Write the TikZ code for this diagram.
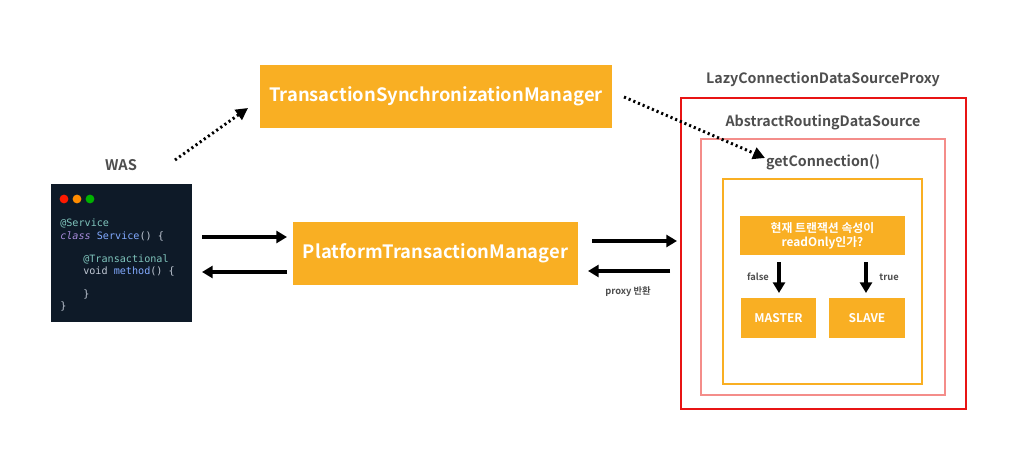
\documentclass[tikz,border=0pt]{standalone}
\usepackage{fontspec}
\setmainfont{Noto Sans CJK KR}[BoldFont={Noto Sans CJK KR Bold}]
\newfontfamily\codefont{DejaVu Sans Mono}
\usetikzlibrary{arrows.meta}
\definecolor{orng}{HTML}{F9AF23}
\definecolor{lbl}{HTML}{4E4E4E}
\definecolor{codebg}{HTML}{0E1A28}
\definecolor{redb}{HTML}{E81414}
\definecolor{pinkb}{HTML}{F48D8A}
\definecolor{annot}{HTML}{7FC4BC}
\definecolor{kw}{HTML}{A78BDB}
\definecolor{fn}{HTML}{82AAFF}
\definecolor{plain}{HTML}{C0C8D4}
\tikzset{
  obox/.style={fill=orng, draw=none, text=white, font=\bfseries},
  lab/.style={text=lbl, font=\bfseries},
  code/.style={anchor=west, font=\codefont\fontsize{7.6}{8}\selectfont, text=plain, inner sep=0},
  solidarrow/.style={line width=2.3pt, -{Triangle[length=8pt,width=9pt]}},
  dotarrow/.style={line width=2.2pt, dash pattern=on 1.6pt off 2.2pt, -{Triangle[length=9pt,width=9pt]}},
}
\begin{document}
\begin{tikzpicture}[x=0.75pt,y=-0.75pt]
\useasboundingbox[fill=white] (0,0) rectangle (1020,470);
% managers
\node[obox, minimum width=352*0.75pt, minimum height=63*0.75pt, font=\bfseries\fontsize{13.8}{15}\selectfont] (tsm) at (436,96.5) {TransactionSynchronizationManager};
\node[obox, minimum width=285*0.75pt, minimum height=63*0.75pt, font=\bfseries\fontsize{13.8}{15}\selectfont] (ptm) at (435.5,253.5) {PlatformTransactionManager};
% WAS
\node[lab, font=\bfseries\fontsize{11}{13}\selectfont] (was) at (121,165) {WAS};
\node[fill=codebg, minimum width=141*0.75pt, minimum height=138*0.75pt, inner sep=0] (codep) at (121.5,253) {};
\fill[red!80!orange] (64,199) circle[radius=3.3pt];
\fill[orange!90!yellow] (77,199) circle[radius=3.3pt];
\fill[green!70!black] (90,199) circle[radius=3.3pt];
\node[code] (c1) at (60,223) {\textcolor{annot}{@Service}};
\node[code] (c2) at (60,236) {\textcolor{kw}{\itshape class} \textcolor{fn}{Service}() \{};
\node[code] (c3) at (83,259) {\textcolor{annot}{@Transactional}};
\node[code] (c4) at (83,271) {void \textcolor{fn}{method}() \{};
\node[code] (c5) at (83,294) {\}};
\node[code] (c6) at (60,306) {\}};
% right structure
\node[lab, font=\bfseries\fontsize{10.7}{13}\selectfont] (lazyl) at (823,79) {LazyConnectionDataSourceProxy};
\draw[redb, line width=1.6pt] (681,98) rectangle (966,409);
\node[lab, font=\bfseries\fontsize{10.7}{13}\selectfont] (absl) at (823,122) {AbstractRoutingDataSource};
\draw[pinkb, line width=1.6pt] (701,139) rectangle (945,395);
\node[lab, font=\bfseries\fontsize{10.7}{13}\selectfont] (getc) at (823,162) {getConnection()};
\draw[orng, line width=1.6pt] (723,179) rectangle (922,384);
\node[obox, minimum width=165*0.75pt, minimum height=39*0.75pt, align=center, inner sep=1pt, font=\bfseries\fontsize{8.9}{10.5}\selectfont] (q) at (822.5,235.5) {현재 트랜잭션 속성이\\readOnly인가?};
\node[obox, minimum width=75*0.75pt, minimum height=40*0.75pt, font=\bfseries\fontsize{9}{11}\selectfont] (master) at (778.5,318) {MASTER};
\node[obox, minimum width=76*0.75pt, minimum height=40*0.75pt, font=\bfseries\fontsize{9}{11}\selectfont] (slave) at (867,318) {SLAVE};
\coordinate (qf) at (779,262);
\coordinate (qt) at (866,262);
\coordinate (mf) at (779,293);
\coordinate (st) at (866,293);
\draw[solidarrow] (qf) -- (mf);
\draw[solidarrow] (qt) -- (st);
\node[lab, font=\bfseries\fontsize{7}{8}\selectfont] (fl) at (758,277) {false};
\node[lab, font=\bfseries\fontsize{7}{8}\selectfont] (tl) at (889,277) {true};
% arrows
\coordinate (a1s) at (202,237); \coordinate (a1e) at (287,237);
\coordinate (a2s) at (287,272); \coordinate (a2e) at (202,272);
\draw[solidarrow] (a1s) -- (a1e);
\draw[solidarrow] (a2s) -- (a2e);
\coordinate (b1s) at (592,241); \coordinate (b1e) at (677,241);
\coordinate (b2s) at (670,271); \coordinate (b2e) at (588,271);
\draw[solidarrow] (b1s) -- (b1e);
\draw[solidarrow] (b2s) -- (b2e);
\node[lab, font=\bfseries\fontsize{7}{8}\selectfont] (proxy) at (628,292) {proxy 반환};
% dotted
\coordinate (d1s) at (175,160); \coordinate (d1e) at (248,108);
\draw[dotarrow] (d1s) -- (d1e);
\coordinate (d2s) at (624,97); \coordinate (d2e) at (765,158);
\draw[dotarrow] (d2s) -- (d2e);
\end{tikzpicture}
\end{document}
